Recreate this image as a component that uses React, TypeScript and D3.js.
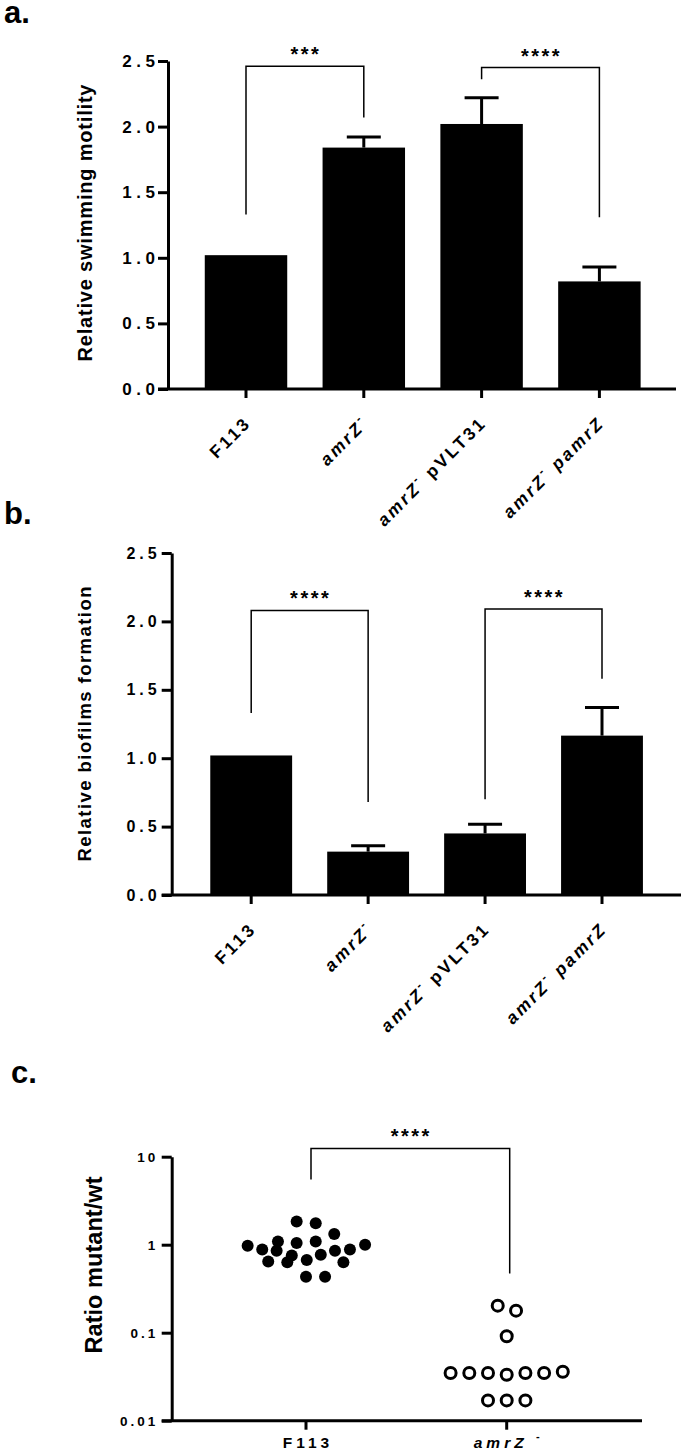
import * as d3 from "d3"
import { useEffect, useRef } from "react"

const W = 685
const H = 1454
const FONT = "'Liberation Sans', Arial, Helvetica, sans-serif"

// panels a and b share the same four strains
const categories = ["F113", "amrZ-", "amrZ- pVLT31", "amrZ- pamrZ"]
const categoryLabels = [
  [{ t: "F113" }],
  [{ t: "amrZ", it: true }, { t: "-", sup: true }],
  [{ t: "amrZ", it: true }, { t: "-", sup: true }, { t: " pVLT31" }],
  [{ t: "amrZ", it: true }, { t: "-", sup: true }, { t: " pamrZ", it: true }],
]
const barTicks = [0, 0.5, 1, 1.5, 2, 2.5]

// a. swimming motility (mean, mean + error)
const swimMean = [1.02, 1.84, 2.02, 0.82]
const swimUpper = [1.02, 1.92, 2.22, 0.93]
const swimBrackets = [
  { from: 0, to: 1, top: 2.46, left: 1.33, right: 2.07, label: "***" },
  { from: 2, to: 3, top: 2.45, left: 2.36, right: 1.31, label: "****" },
]

// b. biofilm formation
const biofilmMean = [1.02, 0.317, 0.45, 1.165]
const biofilmUpper = [1.02, 0.36, 0.517, 1.37]
const biofilmBrackets = [
  { from: 0, to: 1, top: 2.08, left: 1.33, right: 0.68, label: "****" },
  { from: 2, to: 3, top: 2.09, left: 0.7, right: 1.58, label: "****" },
]

// c. competition, ratio mutant/wt (slot = horizontal spread in dot pitches)
const competitionGroups = ["F113", "amrZ-"]
const ratioTicks = [0.01, 0.1, 1, 10]
const f113Ratios = [1.83, 1.75, 1.32, 0.97, 0.88, 1.09, 0.855, 1.045, 1.09, 0.855, 0.88, 1.0, 0.646, 0.63, 0.756, 0.67, 0.77, 0.63, 0.433, 0.433]
const f113Slots = [-0.5, 0.52, 1.51, -3.12, -2.34, -1.5, -1.57, -0.5, 0.52, 1.55, 2.35, 3.16, -2.02, -1.0, -0.76, 0.04, 0.79, 2.0, 0, 1.02]
const amrzRatios = [0.203, 0.178, 0.091, 0.0348, 0.0348, 0.0348, 0.0333, 0.0348, 0.0348, 0.036, 0.017, 0.017, 0.017]
const amrzSlots = [-0.48, 0.5, 0, -3, -2, -1, 0, 1, 2, 3, -1, 0, 1]
const ratioBracket = { top: 12.4, left: 5.5, right: 0.47, label: "****" }

type Part = { t: string; it?: boolean; sup?: boolean }

function appendParts(text: any, parts: Part[], supSize: number, supShift: number) {
  parts.forEach((p, k) => {
    const ts = text.append("tspan").text(p.t)
    if (p.it) ts.attr("font-style", "italic")
    if (p.sup) ts.attr("font-size", supSize).attr("dy", -supShift)
    if (k > 0 && parts[k - 1].sup) ts.attr("dy", supShift)
  })
}

function styleAxis(ax: any, size: number, spacing: number) {
  ax.attr("font-family", null).attr("font-size", null)
  ax.select(".domain").attr("stroke", "#000").attr("stroke-width", 3)
  ax.selectAll(".tick line").attr("stroke", "#000").attr("stroke-width", 3)
  ax.selectAll(".tick text")
    .attr("fill", "#000")
    .attr("font-family", FONT)
    .attr("font-weight", "bold")
    .attr("font-size", size)
    .attr("letter-spacing", spacing)
}

function drawBarPanel(svg: any, cfg: any) {
  const y = d3.scaleLinear().domain([0, 2.5]).range([cfg.y0, cfg.y1])
  const x = d3.scalePoint<number>().domain(d3.range(categories.length)).range(cfg.xRange)
  const bw = x.step() * 0.7
  const cap = 34
  const g = svg.append("g")

  // bars
  g.selectAll("rect.bar")
    .data(cfg.mean)
    .join("rect")
    .attr("x", (d: number, i: number) => x(i)! - bw / 2)
    .attr("width", bw)
    .attr("y", (d: number) => y(d))
    .attr("height", (d: number) => y(0) - y(d))
    .attr("fill", "#000")

  // error bars (upper only)
  cfg.upper.forEach((u: number, i: number) => {
    if (u <= cfg.mean[i]) return
    g.append("line")
      .attr("x1", x(i)).attr("x2", x(i))
      .attr("y1", y(cfg.mean[i])).attr("y2", y(u))
      .attr("stroke", "#000").attr("stroke-width", 3)
    g.append("line")
      .attr("x1", x(i)! - cap / 2).attr("x2", x(i)! + cap / 2)
      .attr("y1", y(u)).attr("y2", y(u))
      .attr("stroke", "#000").attr("stroke-width", 3)
  })

  // y axis
  const ax = g.append("g")
    .attr("transform", `translate(${cfg.axisX},0)`)
    .call(
      d3.axisLeft(y)
        .tickValues(barTicks)
        .tickFormat(d3.format(".1f"))
        .tickSize(10)
        .tickSizeOuter(0)
        .tickPadding(cfg.tickPad)
    )
  styleAxis(ax, cfg.tickFont, cfg.tickSpacing)

  // x axis line + ticks
  g.append("line")
    .attr("x1", cfg.axisX - 10).attr("x2", cfg.xEnd)
    .attr("y1", y(0)).attr("y2", y(0))
    .attr("stroke", "#000").attr("stroke-width", 3)
  categories.forEach((c, i) => {
    g.append("line")
      .attr("x1", x(i)).attr("x2", x(i))
      .attr("y1", y(0)).attr("y2", y(0) + 9)
      .attr("stroke", "#000").attr("stroke-width", 3)
    const t = g.append("text")
      .attr("transform", `translate(${x(i)! + 6},${y(0) + 35}) rotate(-45)`)
      .attr("text-anchor", "end")
      .attr("font-family", FONT)
      .attr("font-weight", "bold")
      .attr("font-size", 17.5)
      .attr("letter-spacing", 2.7)
    appendParts(t, categoryLabels[i], 12, 8)
  })

  // significance brackets
  cfg.brackets.forEach((b: any) => {
    const x1 = x(b.from)!
    const x2 = x(b.to)!
    g.append("path")
      .attr("d", `M${x1},${y(b.left)}V${y(b.top)}H${x2}V${y(b.right)}`)
      .attr("fill", "none").attr("stroke", "#000").attr("stroke-width", 1.5)
    g.append("text")
      .attr("x", (x1 + x2) / 2 + 1)
      .attr("y", y(b.top) - 5)
      .attr("text-anchor", "middle")
      .attr("font-family", FONT)
      .attr("font-weight", "bold")
      .attr("font-size", 20)
      .attr("letter-spacing", 2.5)
      .text(b.label)
  })

  // y label
  g.append("text")
    .attr("transform", `translate(${cfg.labelX},${cfg.labelY}) rotate(-90)`)
    .attr("text-anchor", "middle")
    .attr("font-family", FONT)
    .attr("font-weight", "bold")
    .attr("font-size", cfg.labelSize)
    .attr("textLength", cfg.labelLen)
    .attr("lengthAdjust", "spacing")
    .text(cfg.yLabel)
}

function drawScatter(svg: any) {
  const y = d3.scaleLog().domain([0.01, 10]).range([1420.7, 1156.7])
  const x = d3.scalePoint<string>().domain(competitionGroups).range([306, 506.7])
  const pitch = 18.7
  const g = svg.append("g")

  const ax = g.append("g")
    .attr("transform", "translate(171.7,0)")
    .call(
      d3.axisLeft(y)
        .tickValues(ratioTicks)
        .tickFormat((d: any) => String(d))
        .tickSize(10)
        .tickSizeOuter(0)
        .tickPadding(3.5)
    )
  styleAxis(ax, 13.5, 3)

  g.append("line")
    .attr("x1", 161.7).attr("x2", 642)
    .attr("y1", y(0.01)).attr("y2", y(0.01))
    .attr("stroke", "#000").attr("stroke-width", 3)

  const xLabels: Part[][] = [
    [{ t: "F113" }],
    [{ t: "amrZ ", it: true }, { t: "-", sup: true }],
  ]
  competitionGroups.forEach((c, i) => {
    g.append("line")
      .attr("x1", x(c)).attr("x2", x(c))
      .attr("y1", y(0.01)).attr("y2", y(0.01) + 9)
      .attr("stroke", "#000").attr("stroke-width", 3)
    const t = g.append("text")
      .attr("x", x(c)! + 2)
      .attr("y", 1448)
      .attr("text-anchor", "middle")
      .attr("font-family", FONT)
      .attr("font-weight", "bold")
      .attr("font-size", 15.5)
      .attr("letter-spacing", 4)
    appendParts(t, xLabels[i], 11, 8)
  })

  g.selectAll("circle.wt")
    .data(f113Ratios)
    .join("circle")
    .attr("cx", (d: number, i: number) => x("F113")! + f113Slots[i] * pitch)
    .attr("cy", (d: number) => y(d))
    .attr("r", 6)
    .attr("fill", "#000")

  g.selectAll("circle.mut")
    .data(amrzRatios)
    .join("circle")
    .attr("cx", (d: number, i: number) => x("amrZ-")! + amrzSlots[i] * pitch)
    .attr("cy", (d: number) => y(d))
    .attr("r", 5.5)
    .attr("fill", "#fff")
    .attr("stroke", "#000")
    .attr("stroke-width", 3)

  const x1 = x("F113")! + 5
  const x2 = x("amrZ-")! + 3
  g.append("path")
    .attr("d", `M${x1},${y(ratioBracket.left)}V${y(ratioBracket.top)}H${x2}V${y(ratioBracket.right)}`)
    .attr("fill", "none").attr("stroke", "#000").attr("stroke-width", 1.5)
  g.append("text")
    .attr("x", (x1 + x2) / 2 + 1)
    .attr("y", y(ratioBracket.top) - 5)
    .attr("text-anchor", "middle")
    .attr("font-family", FONT)
    .attr("font-weight", "bold")
    .attr("font-size", 20)
    .attr("letter-spacing", 2.5)
    .text(ratioBracket.label)

  g.append("text")
    .attr("transform", "translate(102,1265) rotate(-90)")
    .attr("text-anchor", "middle")
    .attr("font-family", FONT)
    .attr("font-weight", "bold")
    .attr("font-size", 23.5)
    .attr("textLength", 177)
    .attr("lengthAdjust", "spacing")
    .text("Ratio mutant/wt")
}

export default function App() {
  const svgRef = useRef<SVGSVGElement>(null)

  useEffect(() => {
    if (!svgRef.current) return
    const svg = d3.select(svgRef.current)
    svg.selectAll("*").remove()
    svg.append("rect").attr("width", W).attr("height", H).attr("fill", "#fff")

    drawBarPanel(svg, {
      y0: 389, y1: 61, axisX: 168, xRange: [246, 599.4], xEnd: 676,
      mean: swimMean, upper: swimUpper, brackets: swimBrackets,
      tickPad: -1.5, tickFont: 17, tickSpacing: 4.5,
      yLabel: "Relative swimming motility", labelX: 92, labelY: 223,
      labelLen: 277, labelSize: 20,
    })

    drawBarPanel(svg, {
      y0: 895, y1: 553, axisX: 171.7, xRange: [251.2, 602], xEnd: 681,
      mean: biofilmMean, upper: biofilmUpper, brackets: biofilmBrackets,
      tickPad: 1, tickFont: 16, tickSpacing: 4,
      yLabel: "Relative biofilms formation", labelX: 90.7, labelY: 724,
      labelLen: 275, labelSize: 18.5,
    })

    drawScatter(svg)

    // panel letters
    const letters = [
      { t: "a.", x: 4, y: 23 },
      { t: "b.", x: 4, y: 524 },
      { t: "c.", x: 11, y: 1083 },
    ]
    svg.selectAll("text.letter")
      .data(letters)
      .join("text")
      .attr("x", (d) => d.x)
      .attr("y", (d) => d.y)
      .attr("font-family", FONT)
      .attr("font-weight", "bold")
      .attr("font-size", 31)
      .text((d) => d.t)
  }, [])

  return (
    <div style={{ position: "absolute", left: 0, top: 0 }}>
      <svg ref={svgRef} width={W} height={H} style={{ display: "block" }} />
    </div>
  )
}
